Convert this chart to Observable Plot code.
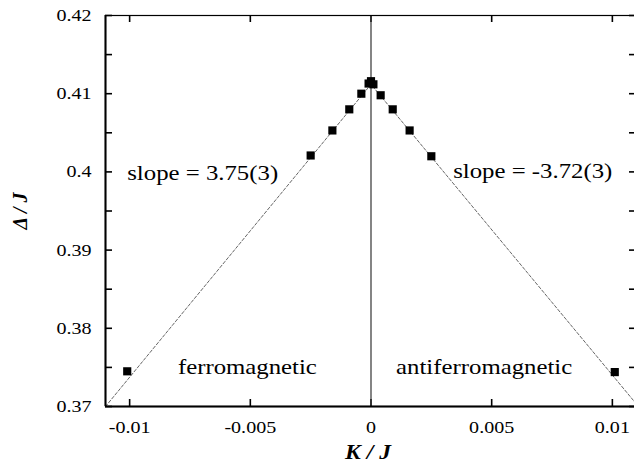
<!DOCTYPE html>
<html>
<head>
<meta charset="utf-8">
<script src="https://cdn.jsdelivr.net/npm/d3@7"></script>
<script src="https://cdn.jsdelivr.net/npm/@observablehq/plot@0.6"></script>
<style>
  html, body { margin: 0; padding: 0; background: #fff; overflow: hidden; }
  #chart svg { display: block; max-width: none; }
</style>
</head>
<body>
<div id="chart"></div>
<script>
// Data
const kValues   = [-0.0101, -0.0025, -0.0016, -0.0009, -0.0004, -0.0001, 0, 0.0001, 0.0004, 0.0009, 0.0016, 0.0025, 0.0101];
const gapValues = [0.3745, 0.4021, 0.4053, 0.4080, 0.4100, 0.4113, 0.4116, 0.4112, 0.4098, 0.4080, 0.4053, 0.4020, 0.3744];

// Fitted lines (slope 3.75 left, -3.72 right)
const fitK   = [-0.011, 0, 0.011];
const fitGap = [0.3700, 0.4112, 0.3703];

// Ticks
const xTicks = [-0.01, -0.005, 0, 0.005, 0.01];
const xTickLabels = ["-0.01", "-0.005", "0", "0.005", "0.01"];
const yTicks = [0.37, 0.38, 0.39, 0.40, 0.41, 0.42];
const yTickLabels = ["0.37", "0.38", "0.39", "0.4", "0.41", "0.42"];
const yMinorTicks = [0.375, 0.385, 0.395, 0.405, 0.415];

// Annotations
const startLabels = [
  {text: "slope = 3.75(3)",   k: -0.0101, g: 0.3990},
  {text: "ferromagnetic",     k: -0.0080, g: 0.3741},
  {text: "antiferromagnetic", k: 0.00104, g: 0.3741}
];
const endLabels = [
  {text: "slope = -3.72(3)",  k: 0.0100,  g: 0.3992}
];

const points = kValues.map((k, i) => ({k, g: gapValues[i]}));
const fit = fitK.map((k, i) => ({k, g: fitGap[i]}));
const allYTicks = yTicks.concat(yMinorTicks);

const W = 640, H = 468;
const mL = 105, mR = 4, mT = 15, mB = 62;
const tickLen = 7;
const serif = "Liberation Serif";

const chart = Plot.plot({
  width: W, height: H,
  marginLeft: mL, marginRight: mR, marginTop: mT, marginBottom: mB,
  style: {fontFamily: serif, fontSize: "17px", color: "#000", background: "#fff"},
  x: {domain: [-0.011, 0.011]},
  y: {domain: [0.37, 0.42]},
  marks: [
    // tick labels
    Plot.axisX({ticks: xTicks, tickSize: 0, tickPadding: 14, tickFormat: (d) => xTickLabels[xTicks.findIndex(t => Math.abs(t - d) < 1e-12)], label: null, fontSize: 17, fontFamily: serif}),
    Plot.axisY({ticks: yTicks, tickSize: 0, tickPadding: 14, tickFormat: (d) => yTickLabels[yTicks.findIndex(t => Math.abs(t - d) < 1e-9)], label: null, fontSize: 17, fontFamily: serif}),
    // inward ticks on all four sides
    Plot.tickX(xTicks, {x: d => d, insetTop: H - mT - mB - tickLen, stroke: "#000", strokeWidth: 1.6}),
    Plot.tickX(xTicks, {x: d => d, insetBottom: H - mT - mB - tickLen, stroke: "#000", strokeWidth: 1.6}),
    Plot.tickY(allYTicks, {y: d => d, insetRight: W - mL - mR - tickLen, stroke: "#000", strokeWidth: 1.6}),
    Plot.tickY(allYTicks, {y: d => d, insetLeft: W - mL - mR - tickLen, stroke: "#000", strokeWidth: 1.6}),
    // vertical line at K = 0
    Plot.ruleX([0], {stroke: "#333", strokeWidth: 1.2}),
    // fitted dashed lines
    Plot.line(fit, {x: "k", y: "g", stroke: "#555", strokeWidth: 0.9, strokeDasharray: "3,2", clip: true}),
    // data points
    Plot.dot(points, {x: "k", y: "g", symbol: "square", r: 4.6, fill: "#000", stroke: "none"}),
    // annotations
    Plot.text(startLabels, {x: "k", y: "g", text: "text", textAnchor: "start", lineAnchor: "bottom", fontSize: 21, fontFamily: serif, fill: "#000"}),
    Plot.text(endLabels, {x: "k", y: "g", text: "text", textAnchor: "end", lineAnchor: "bottom", fontSize: 21, fontFamily: serif, fill: "#000"}),
    // axis labels
    Plot.text(["K / J"], {frameAnchor: "bottom", textAnchor: "middle", dy: 52, lineAnchor: "bottom", fontSize: 20, fontFamily: serif, fontWeight: "bold", fontStyle: "italic", fill: "#000", dx: -3}),
    Plot.text(["Δ / J"], {frameAnchor: "left", textAnchor: "middle", rotate: -90, dx: -85, fontSize: 20, fontFamily: serif, fontWeight: "bold", fontStyle: "italic", fill: "#000"}),
    // frame
    Plot.frame({stroke: "#000", strokeWidth: 1.2}),
    Plot.ruleY([0.37], {stroke: "#000", strokeWidth: 2}),
    Plot.ruleX([-0.011], {stroke: "#000", strokeWidth: 2})
  ]
});
document.getElementById("chart").appendChild(chart);

// Widen the serif glyphs horizontally to match the reference's typeface proportions
const stretch = 1.18;
chart.querySelectorAll("text").forEach(t => {
  const tr = t.getAttribute("transform") || "";
  if (/rotate/.test(tr)) return;
  if (!t.textContent) return;
  const len = t.getComputedTextLength();
  if (len > 0) {
    t.setAttribute("textLength", (len * stretch).toFixed(2));
    t.setAttribute("lengthAdjust", "spacingAndGlyphs");
  }
});
</script>
</body>
</html>
